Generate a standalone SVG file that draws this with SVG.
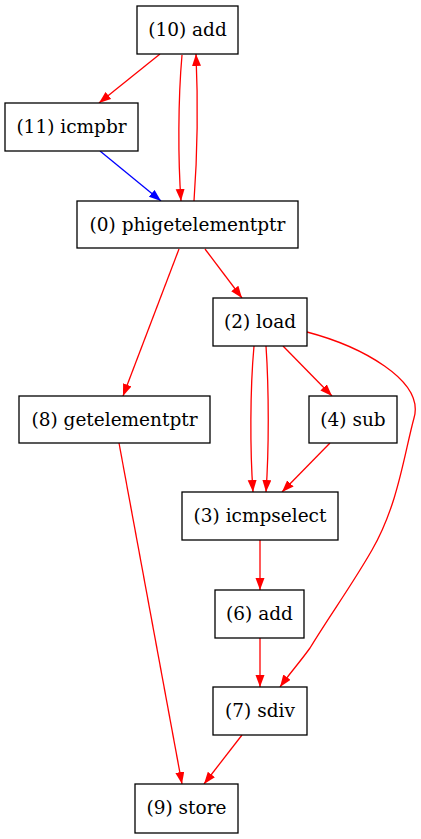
<svg xmlns="http://www.w3.org/2000/svg" width="421" height="839" viewBox="0 0 421 839">
<style>
.n rect{fill:#fff;stroke:#000;stroke-width:1.3}
.n text{font-family:"DejaVu Serif",serif;font-size:18.5px;text-anchor:middle;fill:#000}
.e path{fill:none;stroke-width:1.3}
.r{stroke:#f00;marker-end:url(#ar)}
.b{stroke:#00f;marker-end:url(#ab)}
</style>
<defs>
<marker id="ar" markerUnits="userSpaceOnUse" markerWidth="13" markerHeight="10" refX="12" refY="4.5" orient="auto"><path d="M0,0 L12,4.5 L0,9 z" fill="#f00"/></marker>
<marker id="ab" markerUnits="userSpaceOnUse" markerWidth="13" markerHeight="10" refX="12" refY="4.5" orient="auto"><path d="M0,0 L12,4.5 L0,9 z" fill="#00f"/></marker>
</defs>
<rect width="421" height="839" fill="#fff"/>
<g id="edges" class="e">
<path class="r" d="M160,54 L99,103"/>
<path class="r" d="M182,55 C178,100 178,160 181,201"/>
<path class="r" d="M194,201 C197,160 198,100 196,54"/>
<path class="b" d="M100,151 L161,201"/>
<path class="r" d="M205,249 L242,298"/>
<path class="r" d="M179,249 L123,396"/>
<path class="r" d="M254,346 C250,390 250,450 253,492"/>
<path class="r" d="M266,346 C269,390 269,450 266,492"/>
<path class="r" d="M283,346 L332,396"/>
<path class="r" d="M330,443 L282,492"/>
<path class="r" d="M307,332 C360,346 425,380 414,418 C404,455 398,505 372,550 C352,585 330,615 310,648 C300,662 290,673 280,687"/>
<path class="r" d="M260,540 L260,590"/>
<path class="r" d="M260,638 L260,687"/>
<path class="r" d="M119,443 L182,784"/>
<path class="r" d="M242,735 L204,784"/>
</g>
<g id="n10" class="n"><rect x="137" y="6" width="101" height="48"/><text x="187.5" y="36">(10) add</text></g>
<g id="n11" class="n"><rect x="5" y="103" width="133" height="48"/><text x="71.5" y="133">(11) icmpbr</text></g>
<g id="n0" class="n"><rect x="77" y="201" width="221" height="47"/><text x="187.5" y="231">(0) phigetelementptr</text></g>
<g id="n2" class="n"><rect x="213" y="298" width="94" height="48"/><text x="260" y="328">(2) load</text></g>
<g id="n8" class="n"><rect x="19" y="396" width="191" height="47"/><text x="114.5" y="426">(8) getelementptr</text></g>
<g id="n4" class="n"><rect x="309" y="396" width="88" height="47"/><text x="353" y="426">(4) sub</text></g>
<g id="n3" class="n"><rect x="182" y="492" width="156" height="48"/><text x="260" y="522">(3) icmpselect</text></g>
<g id="n6" class="n"><rect x="215" y="590" width="89" height="48"/><text x="259.5" y="620">(6) add</text></g>
<g id="n7" class="n"><rect x="213" y="687" width="94" height="48"/><text x="260" y="717">(7) sdiv</text></g>
<g id="n9" class="n"><rect x="135" y="784" width="103" height="49"/><text x="186.5" y="814">(9) store</text></g>
</svg>
